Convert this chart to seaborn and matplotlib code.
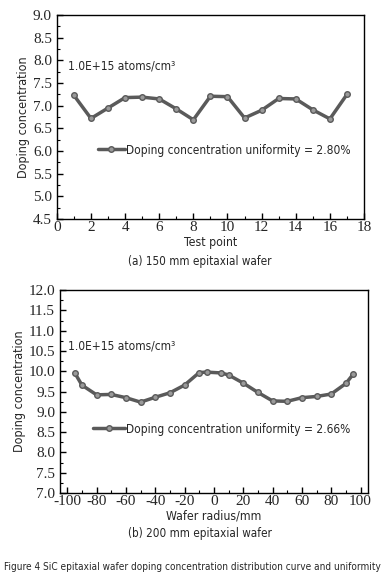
import matplotlib
matplotlib.use('Agg')
import matplotlib.pyplot as plt
import seaborn as sns
import pandas as pd
from matplotlib.ticker import MultipleLocator

# dados
pontos_150 = list(range(1, 18))
conc_150 = [7.23, 6.72, 6.95, 7.18, 7.19, 7.15, 6.93, 6.69, 7.21,
            7.20, 6.73, 6.90, 7.16, 7.15, 6.91, 6.71, 7.25]

raio_200 = [-95, -90, -80, -70, -60, -50, -40, -30, -20, -10, -5,
            5, 10, 20, 30, 40, 50, 60, 70, 80, 90, 95]
conc_200 = [9.97, 9.66, 9.42, 9.43, 9.35, 9.24, 9.36, 9.47, 9.66, 9.97, 9.98,
            9.96, 9.91, 9.71, 9.48, 9.27, 9.26, 9.35, 9.38, 9.44, 9.70, 9.93]

legenda_150 = 'Doping concentration uniformity = 2.80%'
legenda_200 = 'Doping concentration uniformity = 2.66%'
unidade = '1.0E+15 atoms/cm³'

sns.set_style('ticks')
plt.rcParams['font.family'] = ['DejaVu Sans']
plt.rcParams['font.stretch'] = 'condensed'
plt.rcParams['axes.unicode_minus'] = False
serif = ['Liberation Serif', 'DejaVu Serif']

cor = '#5a5a5a'

fig = plt.figure(figsize=(3.84, 5.81), dpi=100)
ax1 = fig.add_axes([0.148, 0.623, 0.80, 0.351])
ax2 = fig.add_axes([0.156, 0.1515, 0.802, 0.349])

df1 = pd.DataFrame({'x': pontos_150, 'y': conc_150})
df2 = pd.DataFrame({'x': raio_200, 'y': conc_200})

estilo = dict(color=cor, linewidth=2.5, marker='o', markersize=4,
              markerfacecolor='#9a9a9a', markeredgecolor=cor, markeredgewidth=1)

sns.lineplot(data=df1, x='x', y='y', ax=ax1, label=legenda_150, **estilo)
sns.lineplot(data=df2, x='x', y='y', ax=ax2, label=legenda_200, **estilo)

def formata(ax, xlim, ylim, xmaj, xmin, ymaj, ymin, xlabel):
    ax.set_xlim(*xlim)
    ax.set_ylim(*ylim)
    ax.xaxis.set_major_locator(MultipleLocator(xmaj))
    ax.xaxis.set_minor_locator(MultipleLocator(xmin))
    ax.yaxis.set_major_locator(MultipleLocator(ymaj))
    ax.yaxis.set_minor_locator(MultipleLocator(ymin))
    ax.yaxis.set_major_formatter(matplotlib.ticker.FormatStrFormatter('%.1f'))
    ax.tick_params(which='both', direction='in', top=False, right=False, color='black')
    ax.tick_params(which='major', length=4, width=1)
    ax.tick_params(axis='x', which='major', pad=1.5)
    ax.tick_params(axis='y', which='major', pad=3.5)
    ax.tick_params(which='minor', length=2, width=0.8)
    for lab in ax.get_xticklabels() + ax.get_yticklabels():
        lab.set_family(serif)
        lab.set_fontstretch('normal')
        lab.set_fontsize(11)
    for s in ax.spines.values():
        s.set_visible(True)
        s.set_linewidth(1.0)
        s.set_color('black')
    ax.set_ylabel('Doping concentration', fontsize=9, labelpad=2)
    ax.set_xlabel(xlabel, fontsize=8.8, labelpad=1)

formata(ax1, (0, 18), (4.5, 9.0), 2, 1, 0.5, 0.25, 'Test point')
formata(ax2, (-105, 105), (7.0, 12.0), 20, 10, 0.5, 0.25, 'Wafer radius/mm')

ax1.text(0.036, 0.75, unidade, transform=ax1.transAxes,
         fontsize=8.6, va='center', ha='left')
ax2.text(0.026, 0.726, unidade, transform=ax2.transAxes,
         fontsize=8.6, va='center', ha='left')

ax1.legend(loc='center left', bbox_to_anchor=(0.118, 0.338), frameon=False,
           fontsize=8.6, handlelength=2.25, handletextpad=0.1, borderaxespad=0)
ax2.legend(loc='center left', bbox_to_anchor=(0.091, 0.315), frameon=False,
           fontsize=8.6, handlelength=2.7, handletextpad=0.1, borderaxespad=0)

fig.text(0.52, 1 - 262 / 581, '(a) 150 mm epitaxial wafer', ha='center', va='center', fontsize=8.4)
fig.text(0.52, 1 - 534 / 581, '(b) 200 mm epitaxial wafer', ha='center', va='center', fontsize=8.4)
fig.text(0.5, 1 - 567 / 581, 'Figure 4 SiC epitaxial wafer doping concentration distribution curve and uniformity',
         ha='center', va='center', fontsize=7.2)

fig.savefig('out.png', dpi=100, facecolor='white')
